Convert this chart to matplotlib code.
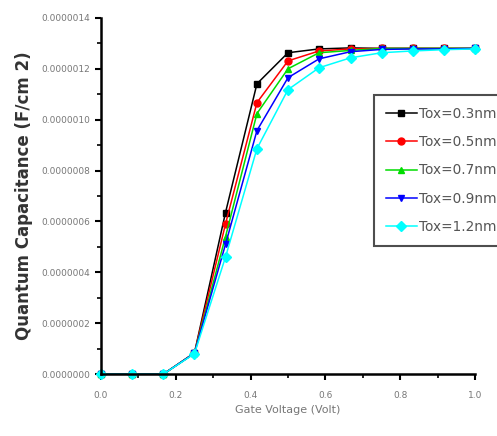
import matplotlib
matplotlib.use('Agg')
import matplotlib.pyplot as plt
from matplotlib.ticker import MultipleLocator, FormatStrFormatter

# data
gate_voltage = [0.0, 0.083, 0.167, 0.25, 0.333, 0.417, 0.5, 0.583, 0.667, 0.75, 0.833, 0.917, 1.0]
cq_tox03 = [0.0, 0.0, 0.0, 0.083, 0.635, 1.141, 1.263, 1.278, 1.282, 1.280, 1.280, 1.280, 1.280]
cq_tox05 = [0.0, 0.0, 0.0, 0.083, 0.590, 1.067, 1.231, 1.270, 1.278, 1.280, 1.280, 1.280, 1.280]
cq_tox07 = [0.0, 0.0, 0.0, 0.082, 0.540, 1.024, 1.200, 1.263, 1.272, 1.280, 1.280, 1.280, 1.280]
cq_tox09 = [0.0, 0.0, 0.0, 0.082, 0.510, 0.957, 1.165, 1.239, 1.267, 1.276, 1.278, 1.278, 1.280]
cq_tox12 = [0.0, 0.0, 0.0, 0.080, 0.460, 0.886, 1.118, 1.204, 1.243, 1.263, 1.270, 1.275, 1.278]
labels = ['Tox=0.3nm', 'Tox=0.5nm', 'Tox=0.7nm', 'Tox=0.9nm', 'Tox=1.2nm']

series = [cq_tox03, cq_tox05, cq_tox07, cq_tox09, cq_tox12]
colors = ['#000000', '#ff0000', '#00dd00', '#0000ff', '#00ffff']
markers = ['s', 'o', '^', 'v', 'D']

fig = plt.figure(figsize=(4.97, 4.36), dpi=100)
ax = fig.add_axes([0.203, 0.142, 0.753, 0.817])

for vals, c, m, lab in zip(series, colors, markers, labels):
    ax.plot(gate_voltage, [v * 1e-6 for v in vals], color=c, marker=m,
            markersize=5, linewidth=1.1, label=lab, clip_on=False)

ax.set_xlim(0, 1.0)
ax.set_ylim(0, 1.4e-6)
ax.xaxis.set_major_locator(MultipleLocator(0.2))
ax.xaxis.set_minor_locator(MultipleLocator(0.1))
ax.yaxis.set_major_locator(MultipleLocator(2e-7))
ax.yaxis.set_minor_locator(MultipleLocator(1e-7))
ax.xaxis.set_major_formatter(FormatStrFormatter('%.1f'))
ax.yaxis.set_major_formatter(FormatStrFormatter('%.7f'))

for s in ['top', 'right']:
    ax.spines[s].set_visible(False)
for s in ['left', 'bottom']:
    ax.spines[s].set_linewidth(1.8)
ax.tick_params(which='major', direction='out', length=4, width=1.5,
               labelsize=6.5, labelcolor='#777777')
ax.tick_params(which='minor', direction='out', length=3, width=1.2)
ax.tick_params(axis='x', which='major', pad=8)

ax.set_xlabel('Gate Voltage (Volt)', fontsize=8, color='#777777', labelpad=4)
ax.set_ylabel('Quantum Capacitance (F/cm 2)', fontsize=12, fontweight='bold',
              color='#333333', labelpad=6)

leg = fig.legend(loc='upper left', bbox_to_anchor=(0.7525, 0.782),
                 frameon=True, fancybox=False, fontsize=9.8, handlelength=2.3,
                 labelspacing=1.05, borderpad=0.87, handletextpad=0.15,
                 borderaxespad=0.0)
leg.get_frame().set_edgecolor('#222222')
leg.get_frame().set_linewidth(1.5)
for t in leg.get_texts():
    t.set_color('#555555')

fig.savefig('out.png', dpi=100)
